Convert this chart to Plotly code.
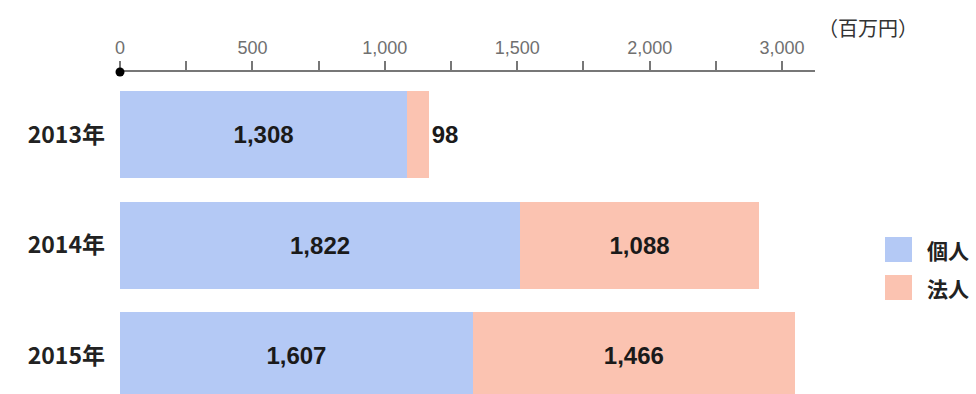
import plotly.graph_objects as go

# Amounts by year, in millions of yen
years = ["2013年", "2014年", "2015年"]
individual = [1308, 1822, 1607]
corporate = [98, 1088, 1466]
series_names = ["個人", "法人"]
series_colors = ["#b4c9f5", "#fbc3b1"]

# Top axis labels, set on evenly spaced ticks
tick_labels = ["0", "500", "1,000", "1,500", "2,000", "3,000"]
unit_label = "（百万円）"

W, H = 976, 394
M_L, M_R, M_T, M_B = 120, 161, 72, 0
PLOT_W = W - M_L - M_R
PLOT_H = H - M_T - M_B
X_MAX = 3165
TICK_STEP = 603

LATIN = "Liberation Sans, Noto Sans CJK JP, sans-serif"
CJK = "Noto Sans CJK JP, Liberation Sans, sans-serif"


def px_x(px):
    return (px - M_L) / PLOT_W


def px_y(py):
    return (H - M_B - py) / PLOT_H


def fmt(v):
    return f"{v:,}"


fig = go.Figure()
fig.add_trace(go.Bar(
    y=years, x=individual, orientation="h", name=series_names[0],
    marker=dict(color=series_colors[0], line=dict(width=0)),
    text=[fmt(v) for v in individual], textposition="inside",
    insidetextanchor="middle",
    textfont=dict(family=LATIN, size=24, color="#1a1a1a", weight="bold"),
    showlegend=False, hoverinfo="skip",
))
fig.add_trace(go.Bar(
    y=years, x=corporate, orientation="h", name=series_names[1],
    marker=dict(color=series_colors[1], line=dict(width=0)),
    text=[fmt(v) for v in corporate],
    textposition=["outside" if v < 300 else "inside" for v in corporate],
    insidetextanchor="middle",
    textfont=dict(family=LATIN, size=24, color="#1a1a1a", weight="bold"),
    cliponaxis=False, constraintext="none",
    showlegend=False, hoverinfo="skip",
))

tickvals = [i * TICK_STEP for i in range(len(tick_labels))]
minor_vals = [(i + 0.5) * TICK_STEP for i in range(len(tick_labels) - 1)]

fig.update_layout(
    width=W, height=H,
    margin=dict(l=M_L, r=M_R, t=M_T, b=M_B, pad=0),
    paper_bgcolor="white", plot_bgcolor="white",
    barmode="stack", bargap=0.213,
    showlegend=False,
    xaxis=dict(
        side="top", range=[0, X_MAX], showgrid=False, zeroline=False,
        showline=True, linecolor="#777777", linewidth=2,
        tickmode="array", tickvals=tickvals, ticktext=tick_labels,
        ticks="outside", ticklen=9, tickwidth=1.5, tickcolor="#777777",
        ticklabelstandoff=0,
        tickfont=dict(family=LATIN, size=18, color="#707070"),
        minor=dict(tickmode="array", tickvals=minor_vals, ticks="outside",
                   ticklen=9, tickwidth=1.5, tickcolor="#777777"),
        fixedrange=True,
    ),
    yaxis=dict(
        type="category", categoryorder="array", categoryarray=years,
        range=[2.348, -0.566], showgrid=False, zeroline=False,
        showline=False, ticks="", ticklabelstandoff=14,
        tickfont=dict(family=CJK, size=23, color="#222222", weight="bold"),
        fixedrange=True,
    ),
)

# Origin dot on the top axis
fig.add_shape(type="circle", xref="paper", yref="paper",
              xsizemode="pixel", ysizemode="pixel", xanchor=0, yanchor=1,
              x0=-4.5, x1=4.5, y0=-4.5, y1=4.5,
              fillcolor="black", line=dict(width=0), layer="above")

# Unit label
fig.add_annotation(text=unit_label, xref="paper", yref="paper",
                   x=px_x(816), y=px_y(28), xanchor="left", yanchor="middle",
                   showarrow=False,
                   font=dict(family=CJK, size=20, color="#333333"))

# Legend swatches and names
for i, (name, color) in enumerate(zip(series_names, series_colors)):
    top = 237 + i * 38
    fig.add_shape(type="rect", xref="paper", yref="paper",
                  x0=px_x(885), x1=px_x(912), y0=px_y(top + 25), y1=px_y(top),
                  fillcolor=color, line=dict(width=0))
    fig.add_annotation(text=name, xref="paper", yref="paper",
                       x=px_x(925), y=px_y(top + 12.5),
                       xanchor="left", yanchor="middle", showarrow=False,
                       font=dict(family=CJK, size=21, color="#222222",
                                 weight="bold"))

fig.write_html("out.html")
